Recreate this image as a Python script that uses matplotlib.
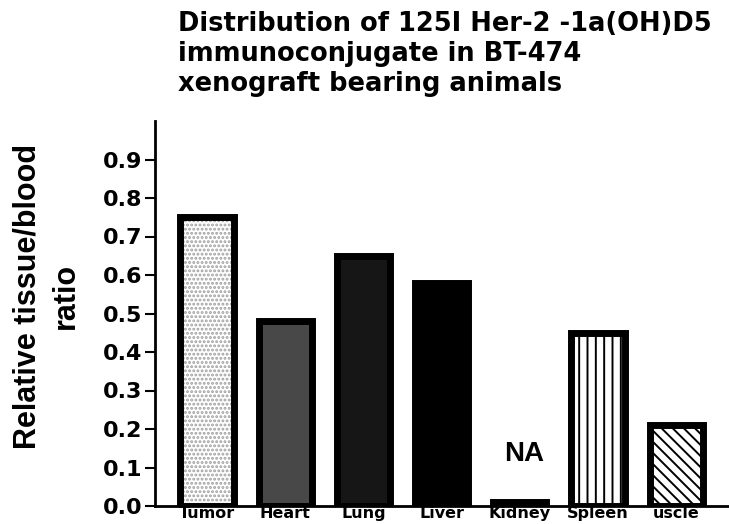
import matplotlib
matplotlib.use('Agg')
import matplotlib.pyplot as plt

# dane
tkanki = ['Tumor', 'Heart', 'Lung', 'Liver', 'Kidney', 'Spleen', 'uscle']
wartosci = [0.75, 0.48, 0.65, 0.58, 0.01, 0.45, 0.21]
y_ticks = [0.0, 0.1, 0.2, 0.3, 0.4, 0.5, 0.6, 0.7, 0.8, 0.9]

# wypelnienia slupkow
kolory = ['white', '#484848', '#161616', 'black', 'black', 'white', 'white']
kreskowanie = ['....', None, None, None, None, '||', '\\\\\\']
kolor_kresek = ['#a0a0a0', 'black', 'black', 'black', 'black', 'black', 'black']

plt.rcParams['hatch.linewidth'] = 1.4

fig = plt.figure(figsize=(7.29, 5.24), dpi=100)
ax = fig.add_axes([155 / 729, 1 - 506 / 524, 574 / 729, 385 / 524])

x = list(range(len(tkanki)))
szer = 0.68

# wypelnienie
for i in x:
    ax.bar(i, wartosci[i], width=szer, color=kolory[i], hatch=kreskowanie[i],
           edgecolor=kolor_kresek[i], linewidth=0)
# obwodka
ax.bar(x, wartosci, width=szer, fill=False, edgecolor='black', linewidth=5)

ax.text(4.05, 0.135, 'NA', ha='center', va='center', fontsize=20,
        fontweight='bold', family='Liberation Sans')

ax.set_xlim(-0.665, 6.675)
ax.set_ylim(0, 1.0)
ax.set_yticks(y_ticks)
ax.set_yticklabels(['%.1f' % v for v in y_ticks], fontsize=16, fontweight='bold')
ax.set_xticks(x)
ax.set_xticklabels(tkanki, fontsize=11.5, fontweight='bold')
ax.tick_params(axis='x', length=0, pad=0)
ax.tick_params(axis='y', length=7, width=1.5, pad=2, direction='out')

for s in ['top', 'right']:
    ax.spines[s].set_visible(False)
ax.spines['left'].set_linewidth(2)
ax.spines['bottom'].set_linewidth(2)

fig.text(178 / 729, 1 - 11 / 524,
         'Distribution of 125I Her-2 -1a(OH)D5\nimmunoconjugate in BT-474\nxenograft bearing animals',
         ha='left', va='top', fontsize=18.5, fontweight='bold', linespacing=1.2)

fig.text(47 / 729, 1 - 296 / 524, 'Relative tissue/blood\nratio', rotation=90,
         ha='center', va='center', multialignment='center', fontsize=22,
         fontweight='bold', family='Liberation Sans', linespacing=1.35)

fig.savefig('out.png', dpi=100)
